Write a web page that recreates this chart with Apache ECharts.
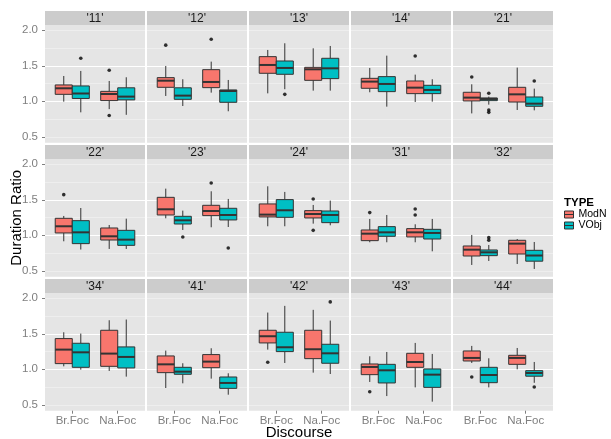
<!DOCTYPE html>
<html>
<head>
<meta charset="utf-8">
<script src="https://cdn.jsdelivr.net/npm/echarts@6/dist/echarts.min.js"></script>
<style>
  html, body { margin: 0; padding: 0; background: #ffffff; }
  #chart { width: 611px; height: 439px; }
</style>
</head>
<body>
<div id="chart"></div>
<script>
// ---- data ----
const panelLabels = ["'11'", "'12'", "'13'", "'14'", "'21'",
                     "'22'", "'23'", "'24'", "'31'", "'32'",
                     "'34'", "'41'", "'42'", "'43'", "'44'"];
const categories = ['Br.Foc', 'Na.Foc'];
const typeNames = ['ModN', 'VObj'];
const yTicks = [0.5, 1.0, 1.5, 2.0];

// per panel: [Br.Foc [min, q1, median, q3, max], Na.Foc [...]]
const modNStats = [
  [[0.995, 1.098, 1.183, 1.230, 1.356], [0.890, 1.010, 1.103, 1.140, 1.286]],
  [[1.075, 1.197, 1.290, 1.333, 1.497], [1.122, 1.192, 1.272, 1.445, 1.558]],
  [[1.112, 1.394, 1.511, 1.628, 1.722], [1.150, 1.295, 1.450, 1.478, 1.745]],
  [[1.127, 1.183, 1.277, 1.323, 1.469], [0.990, 1.108, 1.192, 1.286, 1.375]],
  [[0.830, 1.005, 1.052, 1.127, 1.239], [0.878, 0.990, 1.098, 1.197, 1.474]],
  [[0.916, 1.033, 1.127, 1.239, 1.272], [0.808, 0.934, 0.986, 1.103, 1.145]],
  [[1.239, 1.286, 1.366, 1.534, 1.656], [1.113, 1.277, 1.342, 1.422, 1.619]],
  [[1.127, 1.258, 1.291, 1.441, 1.689], [1.164, 1.244, 1.300, 1.347, 1.427]],
  [[0.902, 0.925, 1.023, 1.075, 1.230], [0.902, 0.977, 1.042, 1.094, 1.155]],
  [[0.583, 0.709, 0.798, 0.850, 1.005], [0.597, 0.737, 0.883, 0.930, 0.948]],
  [[1.042, 1.080, 1.277, 1.432, 1.521], [0.977, 1.042, 1.221, 1.549, 1.690]],
  [[0.737, 0.953, 1.070, 1.188, 1.263], [0.869, 1.023, 1.108, 1.207, 1.296]],
  [[1.277, 1.371, 1.465, 1.549, 1.798], [0.953, 1.150, 1.282, 1.549, 1.836]],
  [[0.822, 0.925, 1.033, 1.075, 1.183], [0.746, 1.028, 1.103, 1.225, 1.371]],
  [[1.089, 1.117, 1.160, 1.258, 1.329], [1.000, 1.070, 1.160, 1.197, 1.300]]
];
const vObjStats = [
  [[0.845, 1.040, 1.110, 1.216, 1.427], [0.810, 1.020, 1.066, 1.190, 1.338]],
  [[0.934, 1.028, 1.080, 1.190, 1.310], [0.860, 0.986, 1.145, 1.160, 1.300]],
  [[1.170, 1.380, 1.469, 1.567, 1.816], [1.150, 1.319, 1.464, 1.605, 1.778]],
  [[0.925, 1.136, 1.244, 1.347, 1.642], [0.995, 1.108, 1.160, 1.225, 1.310]],
  [[0.953, 1.009, 1.033, 1.047, 1.066], [0.873, 0.930, 0.967, 1.061, 1.178]],
  [[0.800, 0.883, 1.042, 1.206, 1.384], [0.808, 0.859, 0.939, 1.070, 1.234]],
  [[1.075, 1.159, 1.211, 1.267, 1.347], [1.117, 1.216, 1.286, 1.380, 1.511]],
  [[1.127, 1.253, 1.352, 1.502, 1.610], [1.141, 1.178, 1.286, 1.342, 1.488]],
  [[0.902, 0.986, 1.042, 1.122, 1.286], [0.775, 0.948, 1.033, 1.084, 1.230]],
  [[0.639, 0.714, 0.761, 0.794, 0.864], [0.527, 0.636, 0.716, 0.789, 0.906]],
  [[0.995, 1.028, 1.239, 1.366, 1.502], [0.897, 1.019, 1.174, 1.315, 1.700]],
  [[0.803, 0.930, 0.967, 1.028, 1.085], [0.643, 0.732, 0.808, 0.892, 0.944]],
  [[1.089, 1.249, 1.310, 1.521, 1.892], [0.934, 1.085, 1.225, 1.352, 1.685]],
  [[0.624, 0.808, 0.986, 1.070, 1.244], [0.545, 0.746, 0.925, 1.005, 1.216]],
  [[0.746, 0.812, 0.920, 1.028, 1.155], [0.810, 0.903, 0.948, 0.981, 1.103]]
];
// per panel: [Br.Foc outliers, Na.Foc outliers]
const modNOutliers = [
  [[], [1.436, 0.800]], [[1.790], [1.872]], [[], []], [[], [1.638]], [[1.342], []],
  [[1.572], []], [[], [1.736]], [[], [1.511, 1.070]], [[1.319], [1.370, 1.286]], [[], []],
  [[], []], [[], []], [[1.099], []], [[0.685], []], [[0.892], []]
];
const vObjOutliers = [
  [[1.605], []], [[], []], [[1.098], []], [[], []], [[1.113, 0.878, 0.845], [1.286]],
  [[], []], [[0.977], [0.822]], [[], []], [[], []], [[0.967, 0.930], []],
  [[], []], [[], []], [[], [1.948]], [[], []], [[], [0.751]]
];

// ---- look ----
const typeColors = ['#F8766D', '#00BFC4'];
const FONT = 'Liberation Sans, Arial, Helvetica, sans-serif';
const PANEL_BG = '#E5E5E5', STRIP_BG = '#CCCCCC', AXIS_TEXT = '#7F7F7F', EDGE = '#333333';

// facet geometry (px)
const NCOL = 5;
const LEFT0 = 45, COL_STEP = 102, PANEL_W = 100;
const STRIP_TOP0 = 11, STRIP_H = 14, ROW_STEP = 134, PANEL_H = 117.7;
const Y_MIN = 0.418, Y_MAX = 2.073;
const X_MIN = 0.4, X_MAX = 2.6;
const DODGE = 0.1875, BOX_W = 0.375;

const statsByType = [modNStats, vObjStats];
const outliersByType = [modNOutliers, vObjOutliers];

function renderBox(params, api) {
  const xc = api.value(0);
  const lowCorner = api.coord([xc - BOX_W / 2, api.value(2)]);
  const highCorner = api.coord([xc + BOX_W / 2, api.value(4)]);
  const mid = api.coord([xc, api.value(3)]);
  const top = api.coord([xc, api.value(5)]);
  const bottom = api.coord([xc, api.value(1)]);
  const fill = api.visual('color');
  return {
    type: 'group',
    children: [
      { type: 'line', shape: { x1: mid[0], y1: top[1], x2: mid[0], y2: highCorner[1] },
        style: { stroke: EDGE, lineWidth: 1 } },
      { type: 'line', shape: { x1: mid[0], y1: lowCorner[1], x2: mid[0], y2: bottom[1] },
        style: { stroke: EDGE, lineWidth: 1 } },
      { type: 'rect',
        shape: { x: lowCorner[0], y: highCorner[1],
                 width: highCorner[0] - lowCorner[0], height: lowCorner[1] - highCorner[1] },
        style: { fill: fill, stroke: EDGE, lineWidth: 1 } },
      { type: 'line', shape: { x1: lowCorner[0], y1: mid[1], x2: highCorner[0], y2: mid[1] },
        style: { stroke: EDGE, lineWidth: 2 } }
    ]
  };
}

const grids = [], xAxes = [], yAxes = [], series = [], graphics = [];

panelLabels.forEach(function (label, i) {
  const r = Math.floor(i / NCOL), c = i % NCOL;
  const left = LEFT0 + c * COL_STEP;
  const stripTop = STRIP_TOP0 + r * ROW_STEP;
  const top = stripTop + STRIP_H;
  const bottomRow = r === 2, leftCol = c === 0;

  grids.push({ left: left, top: top, width: PANEL_W, height: PANEL_H,
               show: true, backgroundColor: PANEL_BG, borderWidth: 0, containLabel: false });

  xAxes.push({
    gridIndex: i, type: 'value', position: 'bottom', min: X_MIN, max: X_MAX, minInterval: 1, maxInterval: 1,
    axisLine: { show: false },
    axisTick: { show: bottomRow, length: 3, customValues: [1, 2], lineStyle: { color: AXIS_TEXT } },
    axisLabel: { show: bottomRow, customValues: [1, 2], margin: 4, fontSize: 11.5, fontFamily: FONT,
                 color: AXIS_TEXT, formatter: function (v) { return categories[Math.round(v) - 1] || ''; } },
    splitLine: { show: true, showMinLine: false, showMaxLine: false,
                 lineStyle: { color: '#FFFFFF', width: 1.1 } }
  });

  // minor grid lines
  yAxes.push({
    gridIndex: i, type: 'value', position: 'left', min: Y_MIN, max: Y_MAX, minInterval: 0.25, maxInterval: 0.25,
    axisLine: { show: false }, axisTick: { show: false }, axisLabel: { show: false },
    splitLine: { show: true, showMinLine: false, showMaxLine: false,
                 lineStyle: { color: '#F2F2F2', width: 0.7 } }
  });
  // major grid lines + labels
  yAxes.push({
    gridIndex: i, type: 'value', position: 'left', min: Y_MIN, max: Y_MAX, minInterval: 0.5, maxInterval: 0.5,
    axisLine: { show: false },
    axisTick: { show: leftCol, length: 3, customValues: yTicks, lineStyle: { color: AXIS_TEXT } },
    axisLabel: { show: leftCol, customValues: yTicks, margin: 7, fontSize: 11.5, fontFamily: FONT,
                 color: AXIS_TEXT,
                 formatter: function (v) {
                   return Math.abs(v * 2 - Math.round(v * 2)) < 1e-6 ? v.toFixed(1) : '';
                 } },
    splitLine: { show: true, showMinLine: false, showMaxLine: false,
                 lineStyle: { color: '#FFFFFF', width: 1.1 } }
  });

  typeNames.forEach(function (name, t) {
    const shift = t === 0 ? -DODGE : DODGE;
    const boxes = categories.map(function (cat, k) {
      return [k + 1 + shift].concat(statsByType[t][i][k]);
    });
    series.push({
      type: 'custom', name: name, xAxisIndex: i, yAxisIndex: 2 * i + 1,
      itemStyle: { color: typeColors[t], borderColor: EDGE, borderWidth: 1 },
      encode: { x: 0, y: [1, 2, 3, 4, 5] },
      renderItem: renderBox, data: boxes, silent: true, z: 2
    });
    const pts = [];
    categories.forEach(function (cat, k) {
      outliersByType[t][i][k].forEach(function (v) { pts.push([k + 1 + shift, v]); });
    });
    series.push({
      type: 'scatter', name: name, xAxisIndex: i, yAxisIndex: 2 * i + 1,
      symbol: 'circle', symbolSize: 3.6, itemStyle: { color: '#000000' },
      data: pts, silent: true, z: 3
    });
  });

  // facet strip
  graphics.push({
    type: 'rect', left: left, top: stripTop, silent: true,
    shape: { width: PANEL_W, height: STRIP_H }, style: { fill: STRIP_BG }
  });
  graphics.push({
    type: 'text', x: left + PANEL_W / 2, y: stripTop + STRIP_H / 2 + 0.5, silent: true,
    style: { text: label, fill: '#1A1A1A', font: '12px ' + FONT, textAlign: 'center', textVerticalAlign: 'middle' }
  });
});

// axis titles and legend heading
graphics.push({
  type: 'text', x: LEFT0 + (COL_STEP * (NCOL - 1) + PANEL_W) / 2, y: 433, silent: true,
  style: { text: 'Discourse', fill: '#000000', font: '15px ' + FONT, textAlign: 'center', textVerticalAlign: 'middle' }
});
graphics.push({
  type: 'text', x: 17, y: STRIP_TOP0 + STRIP_H + (ROW_STEP * 2 + PANEL_H) / 2, rotation: Math.PI / 2, silent: true,
  style: { text: 'Duration Ratio', fill: '#000000', font: '15px ' + FONT, textAlign: 'center', textVerticalAlign: 'middle' }
});
graphics.push({
  type: 'text', x: 564, y: 203, silent: true,
  style: { text: 'TYPE', fill: '#000000', font: 'bold 11.5px ' + FONT, textAlign: 'left', textVerticalAlign: 'middle' }
});

const keyIcon = 'path://M0,0H9V7H0ZM0,3.5H9';

const chart = echarts.init(document.getElementById('chart'), null, { renderer: 'canvas' });
chart.setOption({
  animation: false,
  backgroundColor: '#FFFFFF',
  textStyle: { fontFamily: FONT },
  grid: grids,
  xAxis: xAxes,
  yAxis: yAxes,
  legend: {
    orient: 'vertical', left: 564, top: 209, padding: 0,
    itemWidth: 9, itemHeight: 7, itemGap: 0, selectedMode: false,
    textStyle: { fontSize: 10.5, fontFamily: FONT, color: '#000000', lineHeight: 7 },
    data: typeNames.map(function (name, t) {
      return { name: name, icon: keyIcon,
               itemStyle: { color: typeColors[t], borderColor: EDGE, borderWidth: 1 } };
    })
  },
  graphic: graphics,
  series: series
});
</script>
</body>
</html>
